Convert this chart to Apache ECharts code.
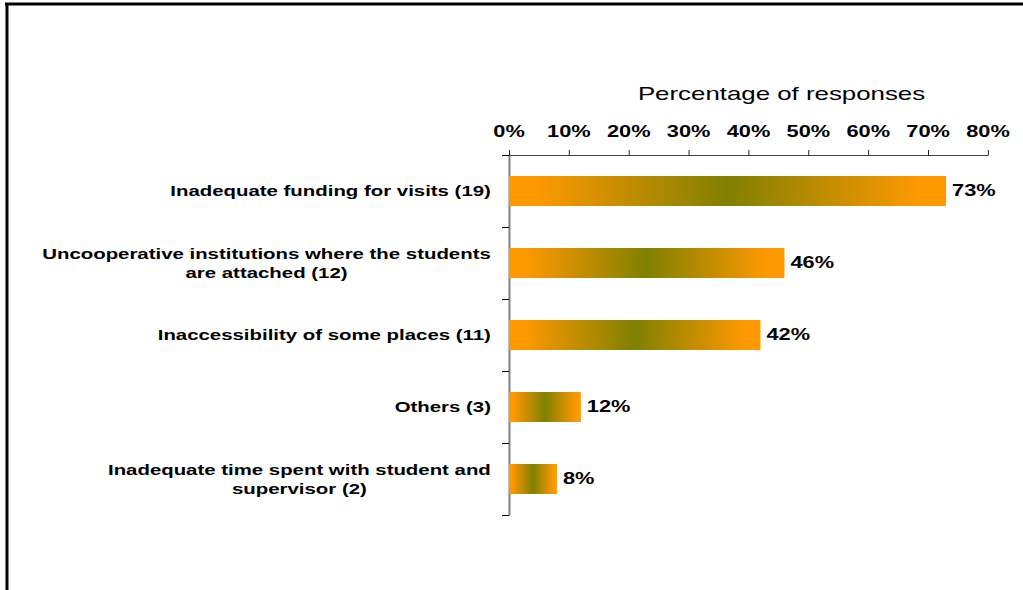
<!DOCTYPE html>
<html>
<head>
<meta charset="utf-8">
<title>Percentage of responses</title>
<script src="https://cdn.jsdelivr.net/npm/echarts@6/dist/echarts.min.js"></script>
<style>
  html, body { margin: 0; padding: 0; background: #fff; overflow: hidden; }
  /* The chart is laid out on a narrower canvas and widened, giving the broad lettering */
  #chart {
    width: 752px;
    height: 590px;
    transform: scaleX(1.3604);
    transform-origin: 0 0;
  }
</style>
</head>
<body>
<div id="chart"></div>
<script>
// Problems reported with supervision visits (count of respondents in brackets)
const categories = [
  ['Inadequate funding for visits (19)'],
  ['Uncooperative institutions where the students', 'are attached (12)'],
  ['Inaccessibility of some places (11)'],
  ['Others (3)'],
  ['Inadequate time spent with student and', 'supervisor (2)']
];
const percentages = [73, 46, 42, 12, 8];
const axisMax = 80;
const axisStep = 10;

const FONT = 'Arial, "Liberation Sans", sans-serif';
const SX = 1.3604;           // horizontal widening applied by CSS
const W = 752;               // layout width before widening

const chart = echarts.init(document.getElementById('chart'), null, { renderer: 'svg' });

// Orange at both ends fading to olive in the middle of each bar
const barFill = new echarts.graphic.LinearGradient(0, 0, 1, 0, [
  { offset: 0, color: '#FF9900' },
  { offset: 0.06, color: '#FF9900' },
  { offset: 0.5, color: '#808000' },
  { offset: 0.94, color: '#FF9900' },
  { offset: 1, color: '#FF9900' }
]);

chart.setOption({
  animation: false,
  backgroundColor: '#ffffff',
  textStyle: { fontFamily: FONT },
  graphic: [
    { type: 'line', shape: { x1: 5 / SX, y1: 4, x2: W, y2: 4 }, style: { stroke: '#000', lineWidth: 3 } },
    { type: 'line', shape: { x1: 7 / SX, y1: 3, x2: 7 / SX, y2: 590 }, style: { stroke: '#000', lineWidth: 3 / SX } }
  ],
  grid: { left: 509 / SX, right: 35 / SX, top: 155, bottom: 75, containLabel: false },
  xAxis: {
    type: 'value',
    position: 'top',
    min: 0,
    max: axisMax,
    interval: axisStep,
    name: 'Percentage of responses',
    nameLocation: 'middle',
    nameGap: 52,
    nameTextStyle: {
      fontFamily: FONT,
      fontSize: 19,
      color: '#000',
      // title sits a little right of the axis centre
      padding: [0, 0, 0, 66 / SX]
    },
    axisLine: { show: true, lineStyle: { color: '#404040', width: 1 } },
    axisTick: { show: true, length: 5, lineStyle: { color: '#000', width: 1 / SX } },
    axisLabel: {
      formatter: '{value}%',
      fontFamily: FONT,
      fontSize: 16,
      fontWeight: 'bold',
      color: '#000',
      margin: 15
    },
    splitLine: { show: false }
  },
  yAxis: {
    type: 'category',
    inverse: true,
    data: categories.map(function (lines) { return lines.join('\n'); }),
    axisLine: { show: true, lineStyle: { color: '#808080', width: 2 / SX } },
    axisTick: { show: true, length: 7 / SX, alignWithLabel: false, lineStyle: { color: '#000' } },
    axisLabel: {
      margin: 18 / SX,
      align: 'right',
      formatter: function (val) {
        return val.split('\n').map(function (l) { return '{c|' + l + '}'; }).join('\n');
      },
      rich: {
        c: {
          align: 'center',
          fontFamily: FONT,
          fontSize: 15,
          fontWeight: 'bold',
          color: '#000',
          lineHeight: 19
        }
      }
    }
  },
  series: [{
    type: 'bar',
    data: percentages,
    barWidth: 30,
    itemStyle: { color: barFill },
    label: {
      show: true,
      position: 'right',
      distance: 6 / SX,
      formatter: '{c}%',
      fontFamily: FONT,
      fontSize: 16,
      fontWeight: 'bold',
      color: '#000'
    }
  }]
});
</script>
</body>
</html>
